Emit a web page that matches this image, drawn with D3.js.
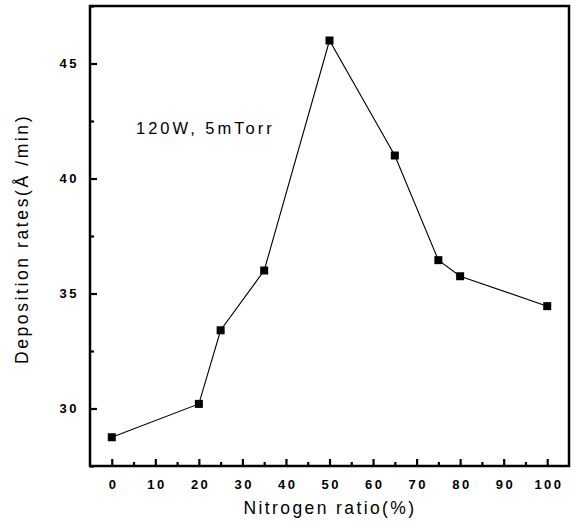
<!DOCTYPE html>
<html>
<head>
<meta charset="utf-8">
<script src="https://cdn.jsdelivr.net/npm/d3@7/dist/d3.min.js"></script>
<style>
  html, body { margin: 0; padding: 0; background: #fff; }
  svg { display: block; }
</style>
</head>
<body>
<svg id="chart" width="576" height="526"></svg>
<script>
// Nitrogen ratio (%) in the sputtering gas
const nitrogenRatio = [0, 20, 25, 35, 50, 65, 75, 80, 100];
// Deposition rate (Å/min)
const depositionRate = [28.75, 30.2, 33.4, 36.0, 46.0, 41.0, 36.45, 35.75, 34.45];

const xTickValues = [0, 10, 20, 30, 40, 50, 60, 70, 80, 90, 100];
const xMinorValues = [5, 15, 25, 35, 45, 55, 65, 75, 85, 95];
const yTickValues = [30, 35, 40, 45];
const yMinorValues = [27.5, 32.5, 37.5, 42.5, 47.5];

const annotationText = "120W, 5mTorr";
const xLabel = "Nitrogen ratio(%)";
const yLabel = "Deposition rates(Å /min)";

const svg = d3.select("#chart");
const plotLeft = 90, plotRight = 569, plotTop = 6, plotBottom = 466;

const x = d3.scaleLinear().domain([-5, 105]).range([plotLeft, plotRight]);
const y = d3.scaleLinear().domain([27.5, 47.5]).range([plotBottom, plotTop]);

const font = "Arial, 'Liberation Sans', sans-serif";
const tickSpacing = 2.5;

// inward-facing ticks on bottom and left axes
const xAxis = d3.axisBottom(x).tickValues(xTickValues).tickSize(-7).tickPadding(14).tickFormat(d3.format("d"));
const yAxis = d3.axisLeft(y).tickValues(yTickValues).tickSize(-7).tickPadding(11).tickFormat(d3.format("d"));

const gx = svg.append("g").attr("transform", `translate(0,${plotBottom})`).call(xAxis);
const gy = svg.append("g").attr("transform", `translate(${plotLeft},0)`).call(yAxis);

[gx, gy].forEach(g => {
  g.select(".domain").remove();
  g.selectAll(".tick line").attr("stroke", "#000").attr("stroke-width", 2.2);
  g.selectAll(".tick text")
    .attr("fill", "#000")
    .style("font-family", font)
    .style("font-size", "13px")
    .style("font-weight", "bold")
    .style("letter-spacing", tickSpacing + "px");
});
gx.selectAll(".tick text").attr("dy", "0.71em").attr("dx", tickSpacing / 2);

// minor ticks
const gxm = svg.append("g").attr("transform", `translate(0,${plotBottom})`)
  .call(d3.axisBottom(x).tickValues(xMinorValues).tickSize(-4).tickFormat(""));
const gym = svg.append("g").attr("transform", `translate(${plotLeft},0)`)
  .call(d3.axisLeft(y).tickValues(yMinorValues).tickSize(-4).tickFormat(""));
[gxm, gym].forEach(g => {
  g.select(".domain").remove();
  g.selectAll(".tick line").attr("stroke", "#000").attr("stroke-width", 2.2);
});

// frame
svg.append("rect")
  .attr("x", plotLeft).attr("y", plotTop)
  .attr("width", plotRight - plotLeft).attr("height", plotBottom - plotTop)
  .attr("fill", "none").attr("stroke", "#000").attr("stroke-width", 2.5);

// data line
const points = nitrogenRatio.map((v, i) => [v, depositionRate[i]]);
svg.append("path")
  .datum(points)
  .attr("fill", "none")
  .attr("stroke", "#000")
  .attr("stroke-width", 1.1)
  .attr("d", d3.line().x(d => x(d[0])).y(d => y(d[1])));

// square markers
const ms = 8;
svg.append("g").selectAll("rect")
  .data(points)
  .join("rect")
  .attr("x", d => x(d[0]) - ms / 2)
  .attr("y", d => y(d[1]) - ms / 2)
  .attr("width", ms).attr("height", ms)
  .attr("fill", "#000");

// annotation
svg.append("text")
  .attr("x", 136).attr("y", 134)
  .style("font-family", font)
  .style("font-size", "16.5px")
  .style("letter-spacing", "3px")
  .text(annotationText);

// axis titles
svg.append("text")
  .attr("x", 330).attr("y", 514)
  .attr("text-anchor", "middle")
  .style("font-family", font)
  .style("font-size", "17.5px")
  .style("letter-spacing", "2.4px")
  .text(xLabel);

svg.append("text")
  .attr("transform", "translate(28,239) rotate(-90)")
  .attr("text-anchor", "middle")
  .style("font-family", font)
  .style("font-size", "17.5px")
  .style("letter-spacing", "2.6px")
  .text(yLabel);
</script>
</body>
</html>
